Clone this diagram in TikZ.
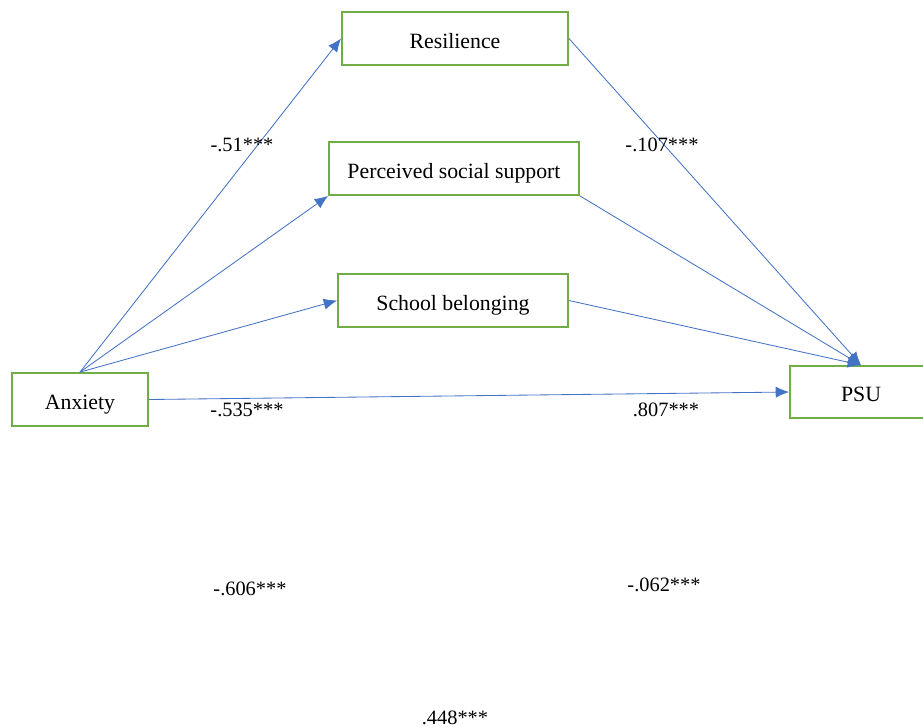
\documentclass[tikz,border=0pt]{standalone}
\usepackage{fontspec}
\setmainfont{Liberation Serif}
\usetikzlibrary{arrows.meta}
\definecolor{boxgreen}{RGB}{112,173,71}
\definecolor{lineblue}{RGB}{68,114,196}
\tikzset{
    varbox/.style={draw=boxgreen, line width=1.3pt, fill=white, inner sep=0pt,
        minimum height=1.325cm, text height=14pt, text depth=0pt,
        font=\fontsize{15.5}{18}\selectfont},
    path/.style={->, draw=lineblue, line width=0.6pt},
    coef/.style={font=\fontsize{14.5}{17}\selectfont}
}
\begin{document}
\begin{tikzpicture}[x=0.025cm, y=-0.025cm, >={Latex[length=9.5pt,width=8pt]}]
    % 1. Khung hình
    \useasboundingbox (0,0) rectangle (923,726);

    % 2. Các biến
    \node[varbox, minimum width=5.65cm] (res) at (455,38.5) {Resilience};
    \node[varbox, minimum width=6.25cm] (pss) at (454,168.5) {Perceived social support};
    \node[varbox, minimum width=5.75cm] (sch) at (453,300.5) {School belonging};
    \node[varbox, minimum width=3.4cm] (anx) at (80,399.5) {Anxiety};
    \node[varbox, minimum width=3.55cm, minimum height=1.3cm] (psu) at (861,392) {PSU};

    % 3. Các đường tác động
    \draw[path] (anx.north) -- (res.west);
    \draw[path] (anx.north) -- (pss.south west);
    \draw[path] (anx.north) -- (sch.west);
    \draw[path] (anx.east) -- (psu.west);
    \draw[path] (res.east) -- (psu.north);
    \draw[path] (pss.south east) -- (psu.north);
    \draw[path] (sch.east) -- (psu.north);

    % 4. Hệ số
    \node[coef] (c1) at (242,145) {-.51***};
    \node[coef] (c2) at (662,145) {-.107***};
    \node[coef] (c3) at (247,410) {-.535***};
    \node[coef] (c4) at (666,410) {.807***};
    \node[coef] (c5) at (250,589) {-.606***};
    \node[coef] (c6) at (664,585) {-.062***};
    \node[coef] (c7) at (455,718) {.448***};

\end{tikzpicture}
\end{document}
